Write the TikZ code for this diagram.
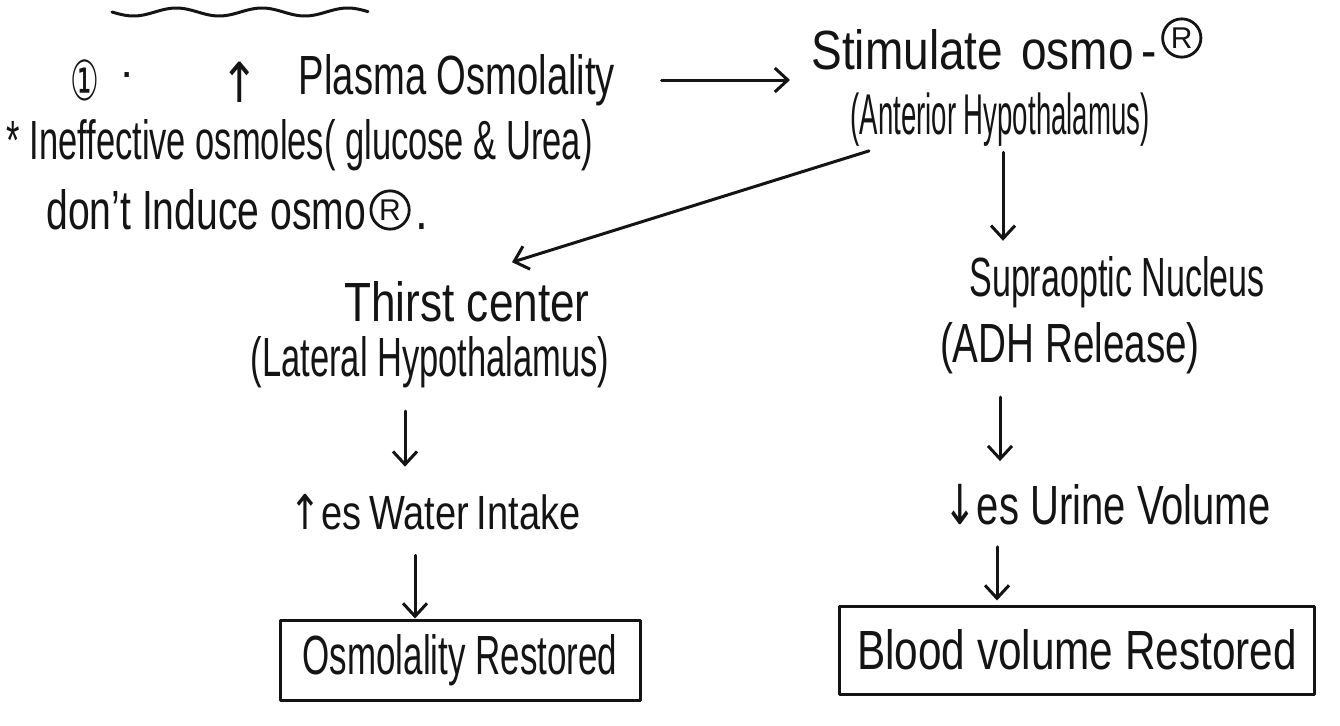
\documentclass[tikz,border=0pt]{standalone}
\usepackage{fontspec}
\setmainfont{Liberation Sans}
\newfontfamily\symfont{DejaVu Sans}
\usetikzlibrary{arrows.meta}
% narrow, tall text, like handwriting
\newcommand\hwtext[2]{\scalebox{#1}[1.2]{#2}}
\definecolor{ink}{HTML}{141414}
\begin{document}
\begin{tikzpicture}[x=1pt,y=-1pt,
  line cap=round, line join=round, line width=3pt,
  hw/.style={inner sep=0pt, text=ink, font=\fontsize{46}{52}\selectfont},
  hwsmall/.style={hw, font=\fontsize{40}{46}\selectfont},
  circR/.style={circle, draw=ink, line width=2.8pt, inner sep=3pt, text=ink,
    font=\fontsize{30}{34}\selectfont},
  flow/.style={draw=ink, -{Straight Barb[length=13pt,width=24pt,line width=3pt]}},
  endbox/.style={hw, draw=ink, line width=3pt, inner sep=0pt}]
\fill[white] (0,0) rectangle (1340,725);
\useasboundingbox (0,0) rectangle (1340,725);

% underline of the heading above
\draw[ink] plot[domain=112:368, samples=80, smooth] (\x, {12+4*sin((\x-112)*4.2)});

% left column: stimulus and its note
\node[hw] (num) at (85,80) {\hwtext{0.7}{\symfont ①}};
\node[hw] (dot) at (127,80) {·};
\node[hw] (up) at (240,82) {\hwtext{1}{\symfont ↑}};
\node[hw] (plasma) at (457,80) {\hwtext{0.83}{Plasma Osmolality}};
\node[hw, anchor=west] (inef) at (5,145) {\hwtext{0.75}{* Ineffective osmoles( glucose \& Urea)}};
\node[hw, anchor=west] (dont) at (45,210) {\hwtext{0.85}{don't Induce osmo}};
\node[circR, anchor=west] (dontR) at ([xshift=2pt]dont.east) {R};
\node[hw, anchor=base west] (dontDot) at ([xshift=3pt]dontR.east |- dont.base) {\hwtext{1}{.}};

% receptor site
\node[hw, anchor=west] (stim) at (810,50) {\hwtext{1}{Stimulate\hspace{18pt}osmo\,-}};
\node[circR, anchor=west] (stimR) at ([xshift=3pt,yshift=12pt]stim.east) {R};
\node[hw] (ant) at (1000,120) {\scalebox{0.6}[1.25]{(Anterior Hypothalamus)}};

% thirst branch
\node[hw] (thirst) at (467,302) {\hwtext{0.96}{Thirst center}};
\node[hw] (lat) at (430,362) {\hwtext{0.75}{(Lateral Hypothalamus)}};
\node[hwsmall] (water) at (435,512) {\hwtext{0.95}{{\symfont ↑}es\hspace{8pt}Water\hspace{8pt}Intake}};
\node[endbox, minimum width=360pt, minimum height=80pt] (obox) at (460,660)
  {\hwtext{0.76}{Osmolality Restored}};

% ADH branch
\node[hw] (supra) at (1117,282) {\hwtext{0.74}{Supraoptic Nucleus}};
\node[hw] (adh) at (1070,348) {\hwtext{0.84}{(ADH Release)}};
\node[hw] (urine) at (1107,505) {\hwtext{0.87}{{\symfont ↓}es Urine Volume}};
\node[endbox, minimum width=475pt, minimum height=88pt] (bbox) at (1077,650)
  {\hwtext{0.92}{Blood volume Restored}};

% connectors
\draw[flow, shorten <=45pt, shorten >=20pt] (plasma.east) -- (stim.west |- plasma.east);
\draw[flow, shorten <=2pt] ([xshift=22pt,yshift=-2pt]ant.south west) -- ([shift={(45,-18)}]thirst.north);
\draw[flow, shorten <=4pt, shorten >=14pt] ([xshift=3pt]ant.south) -- ([xshift=3pt]ant.south |- supra.north);
\draw[flow, shorten <=22pt, shorten >=26pt] ([xshift=-25pt]lat.south) -- ([xshift=-25pt]lat.south |- water.north);
\draw[flow, shorten <=24pt, shorten >=0pt] ([xshift=-45pt]obox.north |- water.south) -- ([xshift=-45pt]obox.north);
\draw[flow, shorten <=22pt, shorten >=22pt] ([xshift=-70pt]adh.south) -- ([xshift=-70pt]adh.south |- urine.north);
\draw[flow, shorten <=20pt, shorten >=4pt] ([xshift=-110pt]urine.south) -- ([xshift=-110pt]urine.south |- bbox.north);
\end{tikzpicture}
\end{document}
